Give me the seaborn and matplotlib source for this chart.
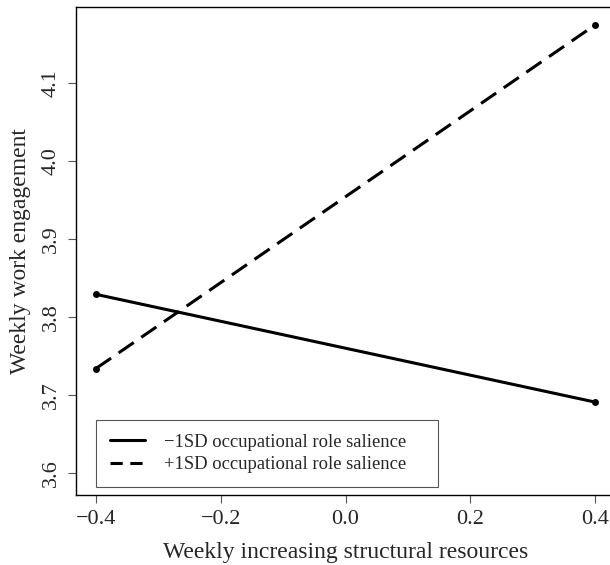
import numpy as np
import pandas as pd
import matplotlib
matplotlib.use("Agg")
import matplotlib.pyplot as plt
import seaborn as sns
from matplotlib.lines import Line2D

# simple slopes
resources = [-0.4, 0.4]
low_salience = [3.829, 3.691]
high_salience = [3.734, 4.174]
group_names = ["\u22121SD occupational role salience", "+1SD occupational role salience"]

d = pd.DataFrame({
    "x": resources + resources,
    "y": low_salience + high_salience,
    "Group": [group_names[0]] * 2 + [group_names[1]] * 2,
})

sns.set_style("ticks")
plt.rcParams["font.family"] = ["Liberation Serif", "DejaVu Serif"]

fig = plt.figure(figsize=(6.1, 5.65), dpi=100)
ax = fig.add_axes([0.1246, 0.1239, 0.8836, 0.8637])

sns.lineplot(data=d, x="x", y="y", style="Group", color="black", linewidth=2.2,
             dashes={group_names[0]: "", group_names[1]: (6, 3)},
             markers={group_names[0]: "o", group_names[1]: "o"},
             markersize=5, markeredgewidth=0, legend=False, ax=ax)

ax.set_xlim(-0.432, 0.432)
ax.set_ylim(3.572, 4.197)
ax.set_xticks([-0.4, -0.2, 0.0, 0.2, 0.4])
ax.set_yticks([3.6, 3.7, 3.8, 3.9, 4.0, 4.1])
ax.set_xticklabels(["\u22120.4", "\u22120.2", "0.0", "0.2", "0.4"])
ax.set_yticklabels(["3.6", "3.7", "3.8", "3.9", "4.0", "4.1"], rotation=90, va="center")
ax.tick_params(axis="both", labelsize=16, length=6, width=0.8, color="#555555", pad=5)

for s in ax.spines.values():
    s.set_color("black")
    s.set_linewidth(1.0)

ax.set_xlabel("Weekly increasing structural resources", size=17, labelpad=9)
ax.set_ylabel("Weekly work engagement", size=17, labelpad=8)

handles = [Line2D([], [], color="black", lw=2.2),
           Line2D([], [], color="black", lw=2.2, dashes=(4, 2.5))]
leg = ax.legend(handles, group_names, loc="lower left", mode="expand",
                bbox_to_anchor=(-0.4, 3.582, 0.549, 0.08), bbox_transform=ax.transData,
                fontsize=13.4, frameon=True, fancybox=False, framealpha=1,
                edgecolor="#555555", borderpad=0.75, handlelength=1.9,
                handletextpad=1.0, labelspacing=0.3, borderaxespad=0)
leg.get_frame().set_linewidth(0.8)

fig.savefig("out.png", dpi=100)
